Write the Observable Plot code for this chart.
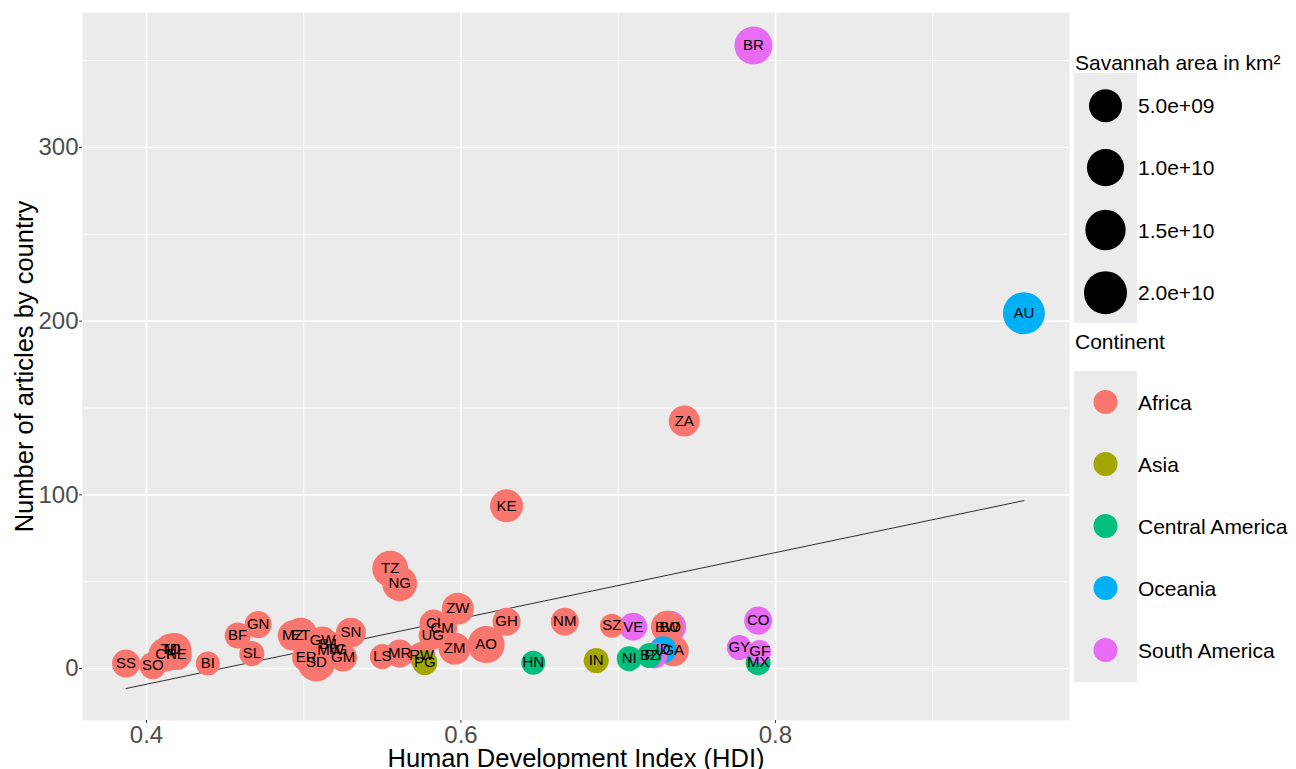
<!DOCTYPE html>
<html>
<head>
<meta charset="utf-8">
<script src="https://cdn.jsdelivr.net/npm/d3@7"></script>
<script src="https://cdn.jsdelivr.net/npm/@observablehq/plot@0.6"></script>
<style>
  body { margin: 0; background: white; }
  #chart { position: relative; width: 1296px; height: 769px; }
</style>
</head>
<body>
<div id="chart"></div>
<script>
// ---- data ----
const codes = ["SS","SO","CF","TD","ML","NE","BI","BF","SL","GN","MZ","ET","SD","ER","GW","BJ","MW","TG","GM","SN","LS","MR","PG","RW","TZ","NG","UG","CI","CM","ZM","ZW","AO","GH","KE","HN","NM","IN","SZ","NI","VE","BZ","PY","BO","BW","GA","ID","ZA","GY","GF","MX","CO","BR","AU"];
const hdi = [0.387,0.404,0.412,0.4155,0.418,0.419,0.439,0.458,0.467,0.471,0.493,0.498,0.508,0.5015,0.512,0.5155,0.517,0.521,0.525,0.530,0.550,0.561,0.577,0.575,0.555,0.561,0.582,0.5825,0.588,0.596,0.598,0.616,0.629,0.629,0.646,0.666,0.686,0.696,0.707,0.7095,0.720,0.723,0.733,0.731,0.735,0.7285,0.742,0.777,0.790,0.789,0.789,0.786,0.958];
const articles = [2.9,1.7,8,11,11,8,2.9,19,8.6,25.3,19,19.5,3.5,6.3,16.1,13.8,10.3,11,6.3,20.7,6.9,8.6,3.4,7.5,57.5,48.9,19,25.9,23,11.5,34.5,13.8,27,93.7,3.4,27,4.6,24.7,5.7,24.1,7.5,7.5,24.1,24.1,10.3,10.9,142.5,12.1,9.8,3.4,27.6,358.7,204.6];
const continent = ["Africa","Africa","Africa","Africa","Africa","Africa","Africa","Africa","Africa","Africa","Africa","Africa","Africa","Africa","Africa","Africa","Africa","Africa","Africa","Africa","Africa","Africa","Asia","Africa","Africa","Africa","Africa","Africa","Africa","Africa","Africa","Africa","Africa","Africa","Central America","Africa","Asia","Africa","Central America","South America","Central America","South America","South America","Africa","Africa","Oceania","Africa","South America","South America","Central America","South America","South America","Oceania"];
const savannahArea = [1.25e9,8e8,6e9,4e9,5e9,3e9,5e7,4.5e8,2e8,8e8,2.4e9,6e9,1.1e10,1.25e9,1.25e9,1.25e9,8e8,8e8,1.25e9,2.4e9,2e8,1.25e9,2e8,8e8,8.4e9,7.2e9,1.25e9,1.25e9,2.4e9,4e9,4e9,9.8e9,1.25e9,5e9,5e7,1.25e9,2e8,5e7,2e8,1.25e9,2e8,4.5e8,4e9,4e9,3.2e9,8e8,3.2e9,2e8,0,2e8,1.25e9,1.12e10,1.8e10];

const fitX = [0.387, 0.958];
const fitY = [-11.5, 96.7];

const continents = ["Africa","Asia","Central America","Oceania","South America"];
const continentColors = ["#F8766D","#A3A500","#00BF7D","#00B0F6","#E76BF3"];
const sizeBreaks = [5e9, 1e10, 1.5e10, 2e10];
const sizeLabels = ["5.0e+09","1.0e+10","1.5e+10","2.0e+10"];

const xMajor = [0.4, 0.6, 0.8];
const xMinor = [0.5, 0.7, 0.9];
const yMajor = [0, 100, 200, 300];
const yMinor = [50, 150, 250, 350];

// ---- build table ----
const rows = codes.map((c, i) => ({code: c, hdi: hdi[i], articles: articles[i], continent: continent[i], area: savannahArea[i]}));
const fit = fitX.map((x, i) => ({x, y: fitY[i]}));

const font = "'Liberation Sans', Arial, Helvetica, sans-serif";

const plot = Plot.plot({
  width: 1296,
  height: 769,
  marginLeft: 82,
  marginRight: 227,
  marginTop: 12,
  marginBottom: 49,
  style: {fontFamily: font, background: "white"},
  x: {domain: [0.3593, 0.9870]},
  y: {domain: [-29.9, 377.7]},
  r: {type: "sqrt", domain: [0, 2.2e10], range: [11.5, 22]},
  color: {domain: continents, range: continentColors},
  marks: [
    Plot.frame({fill: "#EBEBEB", stroke: null}),
    Plot.ruleX(xMinor, {stroke: "white", strokeWidth: 0.8}),
    Plot.ruleY(yMinor, {stroke: "white", strokeWidth: 0.8}),
    Plot.ruleX(xMajor, {stroke: "white", strokeWidth: 1.6}),
    Plot.ruleY(yMajor, {stroke: "white", strokeWidth: 1.6}),
    Plot.line(fit, {x: "x", y: "y", stroke: "black", strokeWidth: 0.8}),
    Plot.dot(rows, {x: "hdi", y: "articles", r: "area", fill: "continent", stroke: null}),
    Plot.text(rows, {x: "hdi", y: "articles", text: "code", fontSize: 15, fill: "black"}),
    Plot.axisX({ticks: xMajor, tickFormat: d => d.toFixed(1), fontSize: 24, tickSize: 3, tickPadding: 2, fill: "#4D4D4D", stroke: "#333333", label: null}),
    Plot.axisY({ticks: yMajor, tickFormat: d => String(d), fontSize: 24, tickSize: 3, tickPadding: 1, fill: "#4D4D4D", stroke: "#333333", label: null}),
    Plot.text(["Human Development Index (HDI)"], {frameAnchor: "bottom", dy: 38, fontSize: 25.5, fill: "black", lineAnchor: "middle", textAnchor: "middle"}),
    Plot.text(["Number of articles by country"], {frameAnchor: "left", dx: -58, rotate: -90, fontSize: 25.5, fill: "black", lineAnchor: "middle", textAnchor: "middle"})
  ]
});

document.getElementById("chart").appendChild(plot);

// ---- legends (drawn into the same svg, using the plot's scales) ----
const rScale = plot.scale("r");
const cScale = plot.scale("color");
const svg = d3.select(plot);
const lg = svg.append("g")
  .attr("font-family", font)
  .attr("font-size", 21)
  .attr("fill", "black")
  .attr("text-anchor", "start");

lg.append("text").attr("x", 1075).attr("y", 70).text("Savannah area in km²");
lg.append("rect").attr("x", 1074).attr("y", 73).attr("width", 63).attr("height", 250).attr("fill", "#EBEBEB");
const sizeY = [105.7, 167.7, 230, 292.7];
sizeBreaks.forEach((v, i) => {
  lg.append("circle").attr("cx", 1105.5).attr("cy", sizeY[i]).attr("r", rScale.apply(v)).attr("fill", "black");
  lg.append("text").attr("x", 1138).attr("y", sizeY[i]).attr("dominant-baseline", "central").text(sizeLabels[i]);
});

lg.append("text").attr("x", 1075).attr("y", 349).text("Continent");
lg.append("rect").attr("x", 1074).attr("y", 371).attr("width", 63).attr("height", 311).attr("fill", "#EBEBEB");
continents.forEach((c, i) => {
  const cy = 402 + i * 62;
  lg.append("circle").attr("cx", 1105.5).attr("cy", cy).attr("r", 12).attr("fill", cScale.apply(c));
  lg.append("text").attr("x", 1138).attr("y", cy).attr("dominant-baseline", "central").text(c);
});
</script>
</body>
</html>
